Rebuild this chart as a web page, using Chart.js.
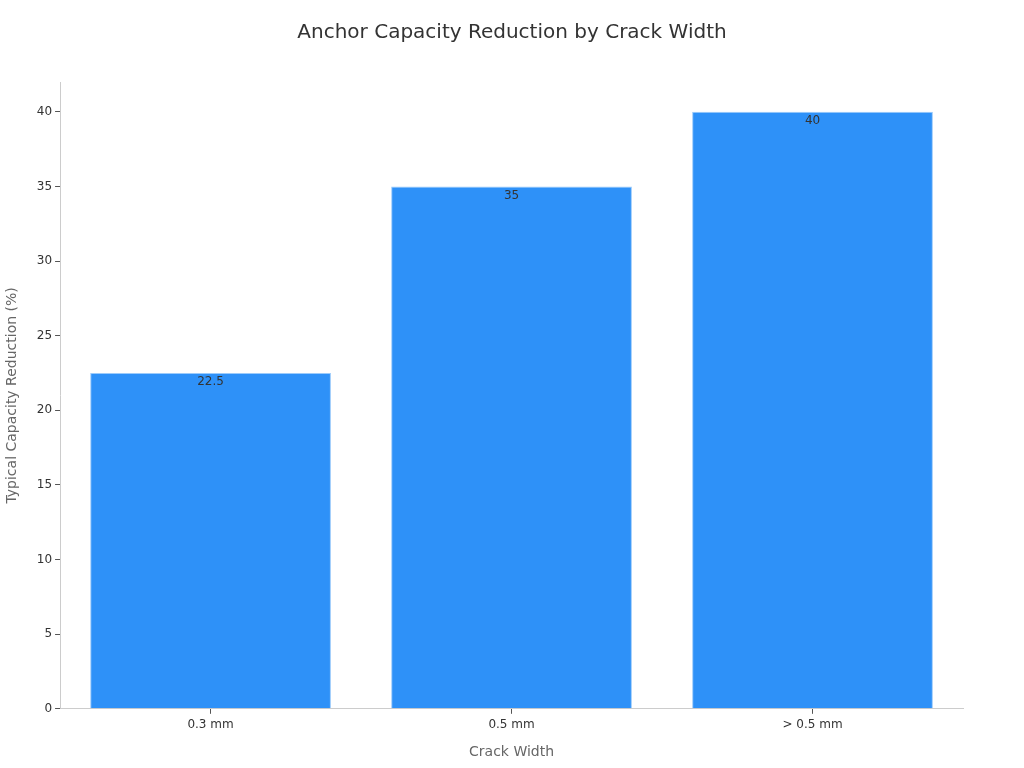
<!DOCTYPE html>
<html><head><meta charset="utf-8">
<script src="https://cdn.jsdelivr.net/npm/chart.js@4/dist/chart.umd.min.js"></script>
<style>html,body{margin:0;padding:0;background:#fff}#wrap{width:1024px;height:768px}</style>
</head><body><div id="wrap"><canvas id="c" width="1024" height="768"></canvas></div>
<script>
const chartTitle = 'Anchor Capacity Reduction by Crack Width';
const categories = ["0.3 mm", "0.5 mm", "> 0.5 mm"];
const reductionValues = [22.5, 35, 40];
const yTickValues = [0, 5, 10, 15, 20, 25, 30, 35, 40];

const labelPlugin = {
  id: 'barLabels',
  afterDatasetsDraw(chart) {
    const ctx = chart.ctx;
    const meta = chart.getDatasetMeta(0);
    ctx.save();
    ctx.font = '12px "DejaVu Sans"';
    ctx.fillStyle = '#333333';
    ctx.textAlign = 'center';
    ctx.textBaseline = 'middle';
    meta.data.forEach((bar, i) => {
      ctx.fillText(String(reductionValues[i]), bar.x, bar.y + 9);
    });
    ctx.restore();
  }
};
const titlePlugin = {
  id: 'pageTitle',
  afterDraw(chart) {
    const ctx = chart.ctx;
    ctx.save();
    ctx.font = '20px "DejaVu Sans"';
    ctx.fillStyle = '#333333';
    ctx.textAlign = 'center';
    ctx.textBaseline = 'middle';
    ctx.fillText(chartTitle, chart.width / 2, 33);
    ctx.restore();
  }
};

Chart.defaults.font.family = '"DejaVu Sans", sans-serif';
new Chart(document.getElementById('c'), {
  type: 'bar',
  data: {
    labels: categories,
    datasets: [{
      data: reductionValues,
      backgroundColor: '#2E91F8',
      borderColor: '#9CCBFB',
      borderWidth: 1,
      barPercentage: 0.8,
      categoryPercentage: 1.0
    }]
  },
  options: {
    responsive: false,
    animation: false,
    layout: { padding: { left: 0, right: 61, top: 82, bottom: 3 } },
    plugins: {
      legend: { display: false },
      tooltip: { enabled: false },
      title: { display: false }
    },
    scales: {
      x: {
        grid: { display: true, drawOnChartArea: false, offset: false, color: '#555555', tickLength: 5 },
        border: { color: '#cccccc' },
        ticks: { color: '#333333', font: { size: 12 }, padding: 4 },
        title: { display: true, text: 'Crack Width', color: '#666666', font: { size: 14 }, padding: { top: 8 } }
      },
      y: {
        min: 0, max: 42,
        afterBuildTicks(axis) { axis.ticks = yTickValues.map(v => ({ value: v })); },
        grid: { display: true, drawOnChartArea: false, color: '#555555', tickLength: 5 },
        border: { color: '#cccccc' },
        ticks: { color: '#333333', font: { size: 12 }, padding: 3 },
        title: { display: true, text: 'Typical Capacity Reduction (%)', color: '#666666', font: { size: 14 }, padding: { bottom: 13 } }
      }
    }
  },
  plugins: [labelPlugin, titlePlugin]
});
</script></body></html>
